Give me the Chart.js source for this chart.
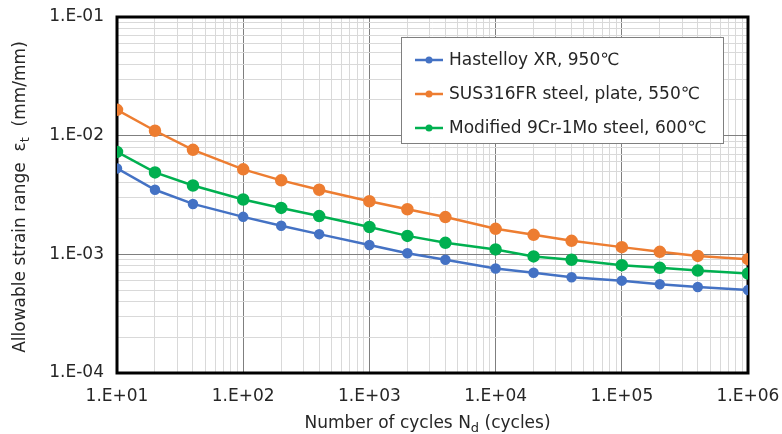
<!DOCTYPE html>
<html>
<head>
<meta charset="utf-8">
<script src="https://cdn.jsdelivr.net/npm/chart.js@4/dist/chart.umd.min.js"></script>
<style>
  html, body { margin: 0; padding: 0; background: #fff; }
  #wrap { width: 782px; height: 434px; position: relative; }
</style>
</head>
<body>
<div id="wrap"><canvas id="fatigueChart"></canvas></div>
<script>
// number of cycles (x)
const cycles = [10, 20, 40, 100, 200, 400, 1000, 2000, 4000, 1e4, 2e4, 4e4, 1e5, 2e5, 4e5, 1e6];

// allowable strain range (y)
const hastelloy = [0.0053, 0.0035, 0.00266, 0.00207, 0.00174, 0.00148, 0.0012, 0.00102, 0.0009, 0.00076, 0.0007, 0.00064, 0.0006, 0.00056, 0.00053, 0.0005];
const sus316 = [0.0165, 0.011, 0.0076, 0.0052, 0.0042, 0.0035, 0.0028, 0.0024, 0.00206, 0.00164, 0.00146, 0.0013, 0.00115, 0.00105, 0.00097, 0.00091];
const mod9cr = [0.0073, 0.0049, 0.0038, 0.0029, 0.00246, 0.0021, 0.0017, 0.00143, 0.00125, 0.0011, 0.00096, 0.0009, 0.00081, 0.00077, 0.00073, 0.00069];

const seriesNames = ["Hastelloy XR, 950\u2103", "SUS316FR steel, plate, 550\u2103", "Modified 9Cr-1Mo steel, 600\u2103"];

// tick labels
const xTickValues = [1e1, 1e2, 1e3, 1e4, 1e5, 1e6];
const xTickLabels = ["1.E+01", "1.E+02", "1.E+03", "1.E+04", "1.E+05", "1.E+06"];
const yTickValues = [1e-4, 1e-3, 1e-2, 1e-1];
const yTickLabels = ["1.E-04", "1.E-03", "1.E-02", "1.E-01"];

const FONT = "'DejaVu Sans', Verdana, sans-serif";
const TEXT = "#262626";

function pts(ys) {
  return ys.map((y, i) => ({ x: cycles[i], y: y }));
}

// majors plus 2..9 minors inside each decade
function logTicks(majors) {
  const out = [];
  for (let i = 0; i < majors.length; i++) {
    out.push({ value: majors[i], major: true });
    if (i < majors.length - 1) {
      for (let k = 2; k <= 9; k++) out.push({ value: majors[i] * k, major: false });
    }
  }
  return out;
}

function labelFor(values, labels, v) {
  for (let i = 0; i < values.length; i++) {
    if (Math.abs(v / values[i] - 1) < 1e-6) return labels[i];
  }
  return "";
}

function gridColor(ctx) {
  return ctx.tick && ctx.tick.major ? "#7f7f7f" : "#d9d9d9";
}

// text with a subscript part, centered at x
function drawSubText(ctx, parts, x, y) {
  let total = 0;
  parts.forEach(p => {
    ctx.font = (p[1] ? "13px " : "17px ") + FONT;
    total += ctx.measureText(p[0]).width;
  });
  let cx = x - total / 2;
  ctx.textAlign = "left";
  ctx.textBaseline = "alphabetic";
  parts.forEach(p => {
    ctx.font = (p[1] ? "13px " : "17px ") + FONT;
    ctx.fillText(p[0], cx, p[1] ? y + 4 : y);
    cx += ctx.measureText(p[0]).width;
  });
}

const framePlugin = {
  id: "frame",
  beforeDatasetsDraw(chart) {
    const a = chart.chartArea;
    const ctx = chart.ctx;
    ctx.save();
    ctx.strokeStyle = "#000";
    ctx.lineWidth = 3;
    ctx.strokeRect(a.left, a.top, a.right - a.left, a.bottom - a.top);
    ctx.restore();
  },
  afterDraw(chart) {
    const a = chart.chartArea;
    const ctx = chart.ctx;
    ctx.save();
    ctx.fillStyle = TEXT;

    // x title
    drawSubText(ctx, [["Number of cycles N", false], ["d", true], [" (cycles)", false]], (a.left + a.right) / 2 - 5, 428);

    // y title
    ctx.save();
    ctx.translate(25, (a.top + a.bottom) / 2 + 2);
    ctx.rotate(-Math.PI / 2);
    drawSubText(ctx, [["Allowable strain range  \u03b5", false], ["t", true], ["  (mm/mm)", false]], 0, 0);
    ctx.restore();

    // legend box inside the plot
    const ds = chart.data.datasets;
    const bx = a.left + 284, by = a.top + 20, bw = 322, bh = 106;
    ctx.fillStyle = "#fff";
    ctx.fillRect(bx, by, bw, bh);
    ctx.strokeStyle = "#7f7f7f";
    ctx.lineWidth = 1;
    ctx.strokeRect(bx + 0.5, by + 0.5, bw, bh);
    ds.forEach((d, i) => {
      const ry = by + 23 + i * 34;
      ctx.strokeStyle = d.borderColor;
      ctx.lineWidth = 2.5;
      ctx.beginPath();
      ctx.moveTo(bx + 14, ry);
      ctx.lineTo(bx + 42, ry);
      ctx.stroke();
      ctx.fillStyle = d.backgroundColor;
      ctx.beginPath();
      ctx.arc(bx + 28, ry, 3.5, 0, Math.PI * 2);
      ctx.fill();
      ctx.fillStyle = TEXT;
      ctx.font = "17px " + FONT;
      ctx.textAlign = "left";
      ctx.textBaseline = "middle";
      ctx.fillText(d.label, bx + 48, ry + 1);
    });
    ctx.restore();
  }
};

const ctx = document.getElementById("fatigueChart").getContext("2d");
new Chart(ctx, {
  type: "line",
  data: {
    datasets: [
      { label: seriesNames[0], data: pts(hastelloy), borderColor: "#4472c4", backgroundColor: "#4472c4", pointRadius: 4, borderWidth: 2.5 },
      { label: seriesNames[1], data: pts(sus316), borderColor: "#ed7d31", backgroundColor: "#ed7d31", pointRadius: 5, borderWidth: 2.5 },
      { label: seriesNames[2], data: pts(mod9cr), borderColor: "#00b050", backgroundColor: "#00b050", pointRadius: 5, borderWidth: 2.5 }
    ]
  },
  options: {
    responsive: true,
    maintainAspectRatio: false,
    animation: false,
    layout: { padding: { left: 0, top: 17, right: 34, bottom: 0 } },
    plugins: {
      legend: { display: false },
      tooltip: { enabled: false }
    },
    elements: { line: { tension: 0 }, point: { borderWidth: 0 } },
    scales: {
      x: {
        type: "logarithmic",
        min: 10,
        max: 1e6,
        afterBuildTicks: s => { s.ticks = logTicks(xTickValues); },
        afterFit: s => { s.height = 61; s.paddingLeft = 0; s.paddingRight = 0; },
        border: { display: false },
        grid: { color: gridColor, drawTicks: false, lineWidth: 1 },
        ticks: {
          autoSkip: false,
          maxRotation: 0,
          padding: 13,
          color: TEXT,
          font: { family: FONT, size: 17 },
          callback: v => labelFor(xTickValues, xTickLabels, v)
        }
      },
      y: {
        type: "logarithmic",
        min: 1e-4,
        max: 1e-1,
        afterBuildTicks: s => { s.ticks = logTicks(yTickValues); },
        afterFit: s => { s.width = 117; s.paddingTop = 0; s.paddingBottom = 0; },
        border: { display: false },
        grid: { color: gridColor, drawTicks: false, lineWidth: 1 },
        ticks: {
          autoSkip: false,
          padding: 13,
          color: TEXT,
          font: { family: FONT, size: 17 },
          callback: v => labelFor(yTickValues, yTickLabels, v)
        }
      }
    }
  },
  plugins: [framePlugin]
});
</script>
</body>
</html>
